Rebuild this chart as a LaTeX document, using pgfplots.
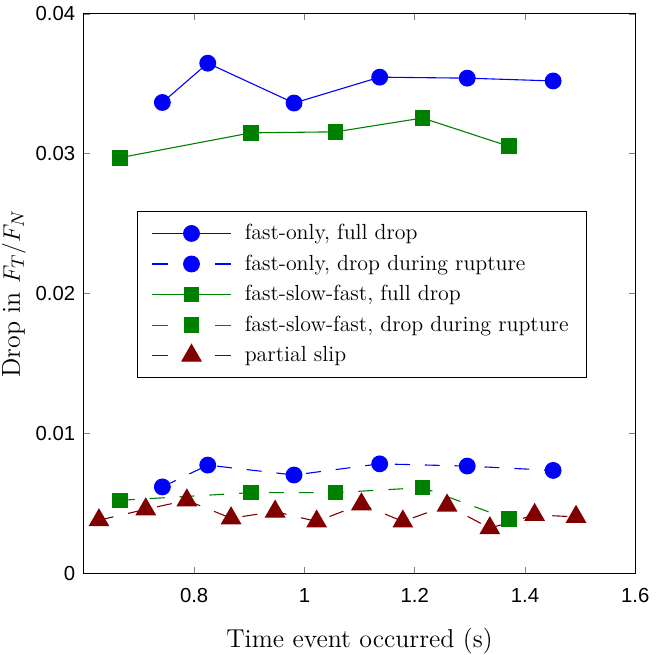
\documentclass[border=0pt]{standalone}
\usepackage{fontspec}
\newfontfamily\tickfont{Liberation Sans}
\usepackage{pgfplots}
\pgfplotsset{compat=1.18}
\definecolor{mblue}{rgb}{0,0,1}
\definecolor{mgreen}{rgb}{0,0.5,0}
\definecolor{mred}{rgb}{0.5,0,0}
\begin{document}
\begin{tikzpicture}
\begin{axis}[
  scale only axis, width=277pt, height=281pt,
  xmin=0.6, xmax=1.6, ymin=0, ymax=0.04,
  xtick={0.8,1,1.2,1.4,1.6},
  ytick={0,0.01,0.02,0.03,0.04},
  scaled y ticks=false, scaled x ticks=false,
  yticklabel style={/pgf/number format/fixed,/pgf/number format/precision=2, xshift=-0.8pt},
  xticklabel style={/pgf/number format/fixed,/pgf/number format/precision=1, yshift=-4pt},
  /pgf/number format/assume math mode=true,
  tick label style={font=\tickfont\fontsize{10.2}{12}\selectfont},
  major tick length=3pt,
  tick align=inside,
  axis line style={line width=0.6pt},
  xlabel={Time event occurred (s)},
  ylabel={Drop in $F_T/F_N$},
  label style={font=\fontsize{13}{16}\selectfont},
  xlabel style={at={(axis description cs:0.5,0)}, anchor=base, yshift=-37.5pt, inner sep=0pt},
  ylabel style={inner xsep=0pt, inner ysep=1pt, yshift=0.4pt},
  legend style={at={(0.0957,0.648)}, anchor=north west, draw=black, line width=0.6pt,
    font=\fontsize{11}{13}\selectfont, cells={anchor=west}, row sep=2.1pt, column sep=4.5pt,
    inner xsep=7pt, inner ysep=4.5pt},
  legend cell align=left,
]
\pgfplotsset{
  solidleg/.style={legend image code/.code={
    \draw[mark repeat=2,mark phase=2,##1] plot coordinates {(0pt,0pt)(20pt,0pt)(40pt,0pt)};}},
  dashleg/.style={legend image code/.code={
    \draw[mark repeat=2,mark phase=2,##1,dash pattern=on 8pt off 24pt] plot coordinates {(0pt,0pt)(20pt,0pt)(40pt,0pt)};}},
}
% fast-only, full drop
\addplot[mblue, line width=0.55pt, mark=*, mark size=3.95pt, mark options={solid}, solidleg] coordinates {
(0.7424,0.03366) (0.8247,0.03647) (0.9812,0.03362) (1.1365,0.03547) (1.2953,0.03540) (1.4511,0.03520)};
\addlegendentry{fast-only, full drop}
% fast-only, drop during rupture
\addplot[mblue, line width=0.55pt, dash pattern=on 7.5pt off 7.5pt, mark=*, mark size=3.95pt, mark options={solid}, dashleg] coordinates {
(0.7424,0.00617) (0.8247,0.00773) (0.9812,0.00702) (1.1365,0.00782) (1.2953,0.00766) (1.4511,0.00735)};
\addlegendentry{fast-only, drop during rupture}
% fast-slow-fast, full drop
\addplot[mgreen, line width=0.55pt, mark=square*, mark size=3.65pt, mark options={solid}, solidleg] coordinates {
(0.6653,0.02971) (0.9031,0.03149) (1.0565,0.03156) (1.2141,0.03255) (1.3706,0.03053)};
\addlegendentry{fast-slow-fast, full drop}
% fast-slow-fast, drop during rupture
\addplot[mgreen, line width=0.55pt, dash pattern=on 7.5pt off 7.5pt, mark=square*, mark size=3.65pt, mark options={solid}, dashleg] coordinates {
(0.6653,0.00521) (0.9031,0.00576) (1.0565,0.00576) (1.2141,0.00612) (1.3706,0.00386)};
\addlegendentry{fast-slow-fast, drop during rupture}
% partial slip
\addplot[mred, line width=0.55pt, dash pattern=on 7.5pt off 7.5pt, mark=triangle*, mark size=5.5pt, mark options={solid}, dashleg] coordinates {
(0.6274,0.00379) (0.7123,0.00457) (0.7868,0.00521) (0.8670,0.00393) (0.9469,0.00441) (1.0222,0.00370)
(1.1034,0.00493) (1.1785,0.00370) (1.2587,0.00484) (1.3363,0.00322) (1.4175,0.00417) (1.4926,0.00403)};
\addlegendentry{partial slip}
\end{axis}
\end{tikzpicture}
\end{document}
